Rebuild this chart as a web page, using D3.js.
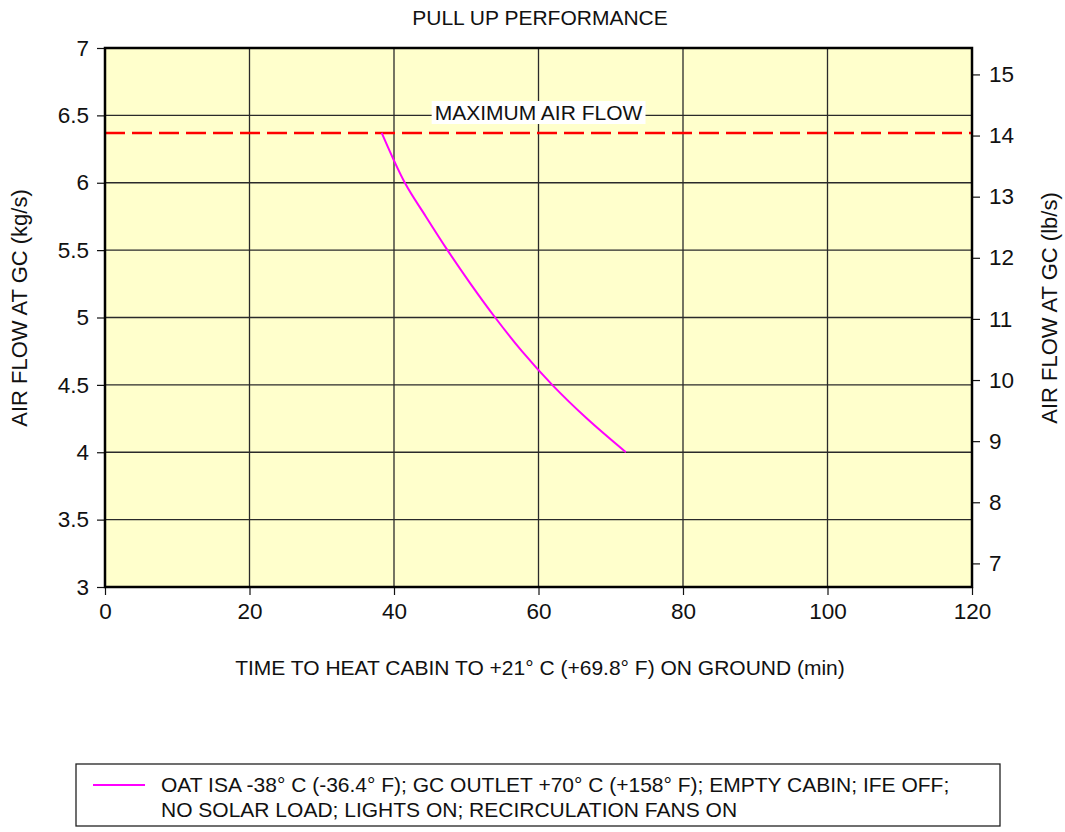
<!DOCTYPE html>
<html>
<head>
<meta charset="utf-8">
<script src="https://cdn.jsdelivr.net/npm/d3@7"></script>
<style>
  html, body { margin: 0; padding: 0; background: #fff; }
  svg text { font-family: "Liberation Sans", Arial, sans-serif; fill: #111; }
</style>
</head>
<body>
<svg id="chart" width="1065" height="832"></svg>
<script>
// Heating time vs. air flow at the ground connector
const timeMin = [38.3, 41.5, 44.4, 47.4, 50.6, 54.0, 57.7, 61.9, 66.7, 72.1];
const flowKgS = [6.37, 6.0, 5.75, 5.5, 5.25, 5.0, 4.75, 4.5, 4.25, 4.0];
const maxAirFlow = 6.37;
const xTicks = [0, 20, 40, 60, 80, 100, 120];
const yTicksKg = [3, 3.5, 4, 4.5, 5, 5.5, 6, 6.5, 7];
const yTicksLb = [7, 8, 9, 10, 11, 12, 13, 14, 15];
const KG_TO_LB = 2.20462;

const title = "PULL UP PERFORMANCE";
const xTitle = "TIME TO HEAT CABIN TO +21\u00B0 C (+69.8\u00B0 F) ON GROUND (min)";
const yTitleLeft = "AIR FLOW AT GC (kg/s)";
const yTitleRight = "AIR FLOW AT GC (lb/s)";
const legendLines = [
  "OAT ISA -38\u00B0 C (-36.4\u00B0 F); GC OUTLET +70\u00B0 C (+158\u00B0 F); EMPTY CABIN; IFE OFF;",
  "NO SOLAR LOAD; LIGHTS ON; RECIRCULATION FANS ON"
];

const svg = d3.select("#chart");
const L = 105, R = 972, T = 48, B = 587;
const FS = 21, TICK_FS = 22.5, YT_FS = 22;

const x = d3.scaleLinear().domain([0, 120]).range([L, R]);
const y = d3.scaleLinear().domain([3, 7]).range([B, T]);
const yLb = d3.scaleLinear().domain([3 * KG_TO_LB, 7 * KG_TO_LB]).range([B, T]);

// plot background
svg.append("rect").attr("x", L).attr("y", T).attr("width", R - L).attr("height", B - T)
  .attr("fill", "#FFFFCC");

// grid
const grid = svg.append("g").attr("stroke", "#2a2a2a").attr("stroke-width", 1.3);
xTicks.slice(1, -1).forEach(v => grid.append("line")
  .attr("x1", x(v)).attr("x2", x(v)).attr("y1", T).attr("y2", B));
yTicksKg.slice(1, -1).forEach(v => grid.append("line")
  .attr("x1", L).attr("x2", R).attr("y1", y(v)).attr("y2", y(v)));

// axes
const fmt = d => String(d);
const xAxis = svg.append("g").attr("transform", `translate(0,${B})`)
  .call(d3.axisBottom(x).tickValues(xTicks).tickFormat(fmt).tickSize(8).tickPadding(8));
const yAxis = svg.append("g").attr("transform", `translate(${L},0)`)
  .call(d3.axisLeft(y).tickValues(yTicksKg).tickFormat(fmt).tickSize(8).tickPadding(8));
const yAxisR = svg.append("g").attr("transform", `translate(${R},0)`)
  .call(d3.axisRight(yLb).tickValues(yTicksLb).tickFormat(fmt).tickSize(8).tickPadding(9));
[xAxis, yAxis, yAxisR].forEach(g => {
  g.select(".domain").remove();
  g.selectAll(".tick line").attr("stroke", "#111").attr("stroke-width", 1.2);
  g.selectAll(".tick text").attr("font-size", TICK_FS).attr("fill", "#111")
    .attr("font-family", "Liberation Sans, Arial, sans-serif");
});

// maximum air flow line
svg.append("line")
  .attr("x1", L).attr("x2", R).attr("y1", y(maxAirFlow)).attr("y2", y(maxAirFlow))
  .attr("stroke", "#FF0000").attr("stroke-width", 2.5).attr("stroke-dasharray", "20,7");

// label with white backing
const lbl = svg.append("g");
const lblText = lbl.append("text")
  .attr("x", x(60)).attr("y", 120)
  .attr("text-anchor", "middle").attr("font-size", FS)
  .text("MAXIMUM AIR FLOW");
const bb = lblText.node().getBBox();
lbl.insert("rect", "text").attr("x", bb.x - 3).attr("y", bb.y).attr("width", bb.width + 6)
  .attr("height", bb.height).attr("fill", "#fff");

// curve
const pts = timeMin.map((t, i) => [t, flowKgS[i]]);
svg.append("path").datum(pts)
  .attr("fill", "none").attr("stroke", "#FF00FF").attr("stroke-width", 2)
  .attr("d", d3.line().x(d => x(d[0])).y(d => y(d[1])).curve(d3.curveCatmullRom.alpha(0.5)));

// frame
svg.append("rect").attr("x", L).attr("y", T).attr("width", R - L).attr("height", B - T)
  .attr("fill", "none").attr("stroke", "#000").attr("stroke-width", 2.5);

// titles
svg.append("text").attr("x", 540).attr("y", 25).attr("text-anchor", "middle")
  .attr("font-size", FS).text(title);
svg.append("text").attr("x", 540).attr("y", 675).attr("text-anchor", "middle")
  .attr("font-size", FS).text(xTitle);
svg.append("text").attr("transform", `translate(27,308) rotate(-90)`)
  .attr("text-anchor", "middle").attr("font-size", YT_FS).text(yTitleLeft);
svg.append("text").attr("transform", `translate(1057,308) rotate(-90)`)
  .attr("text-anchor", "middle").attr("font-size", YT_FS).text(yTitleRight);

// legend
const lg = svg.append("g");
lg.append("rect").attr("x", 76).attr("y", 764).attr("width", 924).attr("height", 62)
  .attr("fill", "#fff").attr("stroke", "#222").attr("stroke-width", 1.3);
lg.append("line").attr("x1", 93).attr("x2", 145).attr("y1", 785).attr("y2", 785)
  .attr("stroke", "#FF00FF").attr("stroke-width", 2);
legendLines.forEach((s, i) => lg.append("text")
  .attr("x", 161).attr("y", 792 + i * 25).attr("font-size", FS).text(s));
</script>
</body>
</html>
